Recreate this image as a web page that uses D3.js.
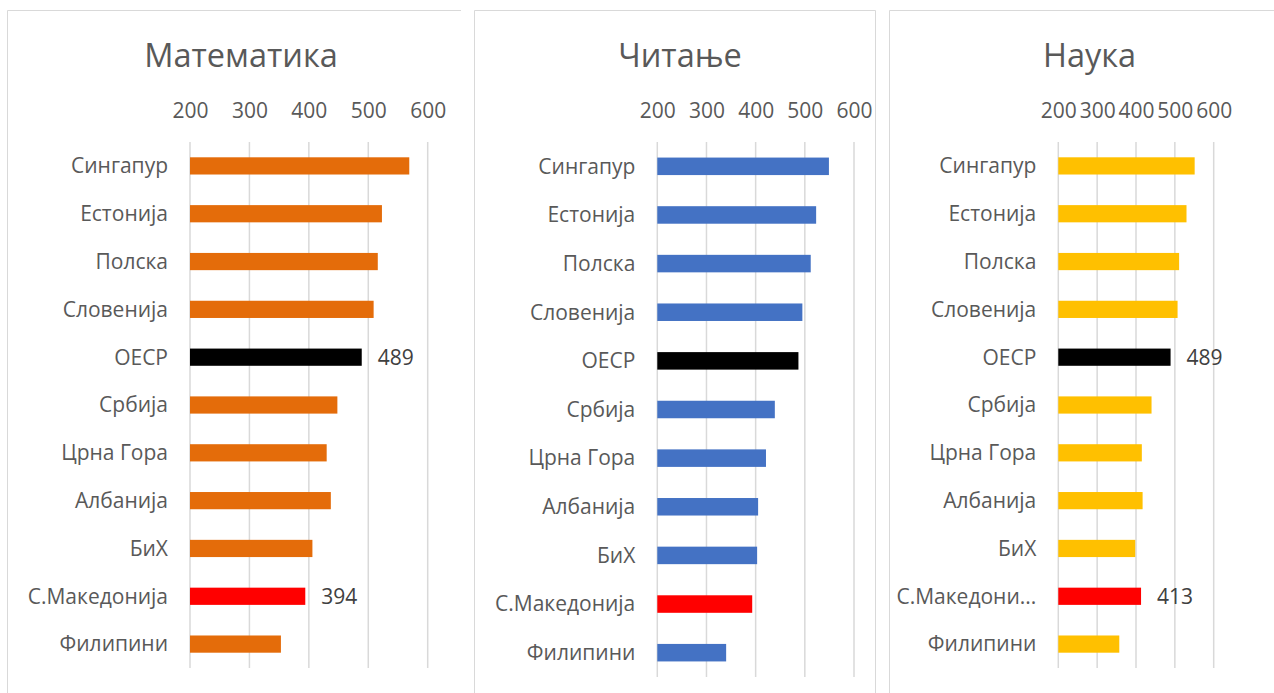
<!DOCTYPE html>
<html>
<head>
<meta charset="utf-8">
<script src="https://cdn.jsdelivr.net/npm/d3@7"></script>
<style>
  html, body { margin: 0; padding: 0; background: #fff; }
  svg { display: block; font-family: "Open Sans", "Noto Sans", sans-serif; }
</style>
</head>
<body>
<svg id="chart" width="1274" height="693"></svg>
<script>
// ---- data ----
const categories = ["Сингапур", "Естонија", "Полска", "Словенија", "ОЕСР", "Србија", "Црна Гора", "Албанија", "БиХ", "С.Македонија", "Филипини"];
const mathValues = [569, 523, 516, 509, 489, 448, 430, 437, 406, 394, 353];
const readingValues = [549, 523, 512, 495, 487, 439, 421, 405, 403, 393, 340];
const scienceValues = [551, 530, 511, 507, 489, 440, 415, 417, 398, 413, 357];
const tickValues = [200, 300, 400, 500, 600];
const titles = ["Математика", "Читање", "Наука"];
const oecdLabel = "ОЕСР";
const macedoniaLabel = "С.Македонија";

// ---- layout ----
const panels = [
  { title: titles[0], values: mathValues, color: "#E46C0A", x0: 190, x1: 427.7, yTop: 142, yBottom: 668,
    border: { left: 7.5, right: 461, top: 10.5, drawRight: false }, titleX: 241, dataLabels: true, maxLabelW: 200 },
  { title: titles[1], values: readingValues, color: "#4472C4", x0: 657.3, x1: 854, yTop: 142, yBottom: 677,
    border: { left: 474.5, right: 875.5, top: 10.5, drawRight: true }, titleX: 680, dataLabels: false, maxLabelW: 200 },
  { title: titles[2], values: scienceValues, color: "#FFC000", x0: 1058.3, x1: 1213.7, yTop: 142, yBottom: 668,
    border: { left: 889.5, right: 1290, top: 10.5, drawRight: false }, titleX: 1089.5, dataLabels: true, maxLabelW: 140 }
];

const svg = d3.select("#chart");
const textColor = "#595959";
const gridColor = "#D9D9D9";
const fs = 21;

panels.forEach(p => {
  const g = svg.append("g");

  // border
  const b = p.border;
  g.append("line").attr("x1", b.left).attr("x2", b.right).attr("y1", b.top).attr("y2", b.top)
    .attr("stroke", gridColor).attr("stroke-width", 1);
  g.append("line").attr("x1", b.left).attr("x2", b.left).attr("y1", b.top).attr("y2", 700)
    .attr("stroke", gridColor).attr("stroke-width", 1);
  if (b.drawRight) {
    g.append("line").attr("x1", b.right).attr("x2", b.right).attr("y1", b.top).attr("y2", 700)
      .attr("stroke", gridColor).attr("stroke-width", 1);
  }

  // title
  g.append("text").attr("x", p.titleX).attr("y", 67).attr("text-anchor", "middle")
    .attr("font-size", 32.5).attr("fill", textColor).text(p.title);

  const x = d3.scaleLinear().domain([200, 600]).range([p.x0, p.x1]);
  const y = d3.scaleBand().domain(categories).range([p.yTop, p.yBottom])
    .paddingInner(0.64).paddingOuter(0.32);

  // gridlines
  g.selectAll(".grid").data(tickValues).join("line")
    .attr("x1", d => x(d)).attr("x2", d => x(d))
    .attr("y1", p.yTop).attr("y2", p.yBottom)
    .attr("stroke", gridColor).attr("stroke-width", 1.5);

  // top axis labels
  const axis = d3.axisTop(x).tickValues(tickValues).tickSize(0).tickPadding(0).tickFormat(d3.format("d"));
  const ag = g.append("g").attr("transform", `translate(0,${118})`).call(axis);
  ag.select(".domain").remove();
  ag.selectAll("text").attr("font-size", fs).attr("fill", textColor)
    .attr("font-family", "'Open Sans', 'Noto Sans', sans-serif").attr("dy", 0);

  // bars
  g.selectAll(".bar").data(categories).join("rect")
    .attr("x", x(200))
    .attr("y", d => y(d))
    .attr("width", (d, i) => x(p.values[i]) - x(200))
    .attr("height", y.bandwidth())
    .attr("fill", d => d === oecdLabel ? "#000000" : (d === macedoniaLabel ? "#FF0000" : p.color));

  // category labels
  const labels = g.selectAll(".cat").data(categories).join("text")
    .attr("x", x(200) - 22)
    .attr("y", d => y(d) + y.bandwidth() / 2)
    .attr("dy", "0.35em")
    .attr("text-anchor", "end")
    .attr("font-size", fs)
    .attr("fill", textColor)
    .text(d => d);
  labels.each(function(d) {
    const el = d3.select(this);
    let t = d;
    if (this.getComputedTextLength() > p.maxLabelW) {
      while (t.length > 1) {
        t = t.slice(0, -1);
        el.text(t + "...");
        if (this.getComputedTextLength() <= p.maxLabelW) break;
      }
    }
  });

  // data labels
  if (p.dataLabels) {
    const idx = [categories.indexOf(oecdLabel), categories.indexOf(macedoniaLabel)];
    g.selectAll(".dl").data(idx).join("text")
      .attr("x", i => x(p.values[i]) + 16)
      .attr("y", i => y(categories[i]) + y.bandwidth() / 2)
      .attr("dy", "0.35em")
      .attr("font-size", fs)
      .attr("fill", "#404040")
      .text(i => p.values[i]);
  }
});
</script>
</body>
</html>
